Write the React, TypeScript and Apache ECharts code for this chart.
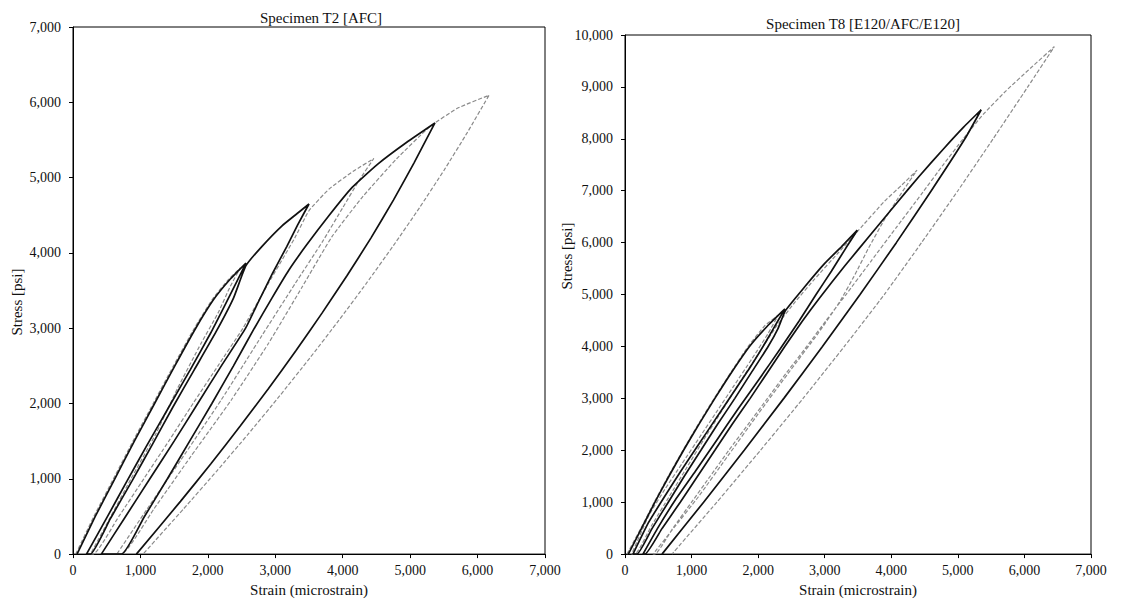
import React, { useEffect, useRef } from "react";
import * as echarts from "echarts";

// ---------- Specimen T2 [AFC] ----------
const t2Title = "Specimen T2 [AFC]";
// black trace (load / unload cycles), [strain, stress]
const t2Black: number[][] = [
  [60, 0], [330, 500], [620, 1000], [910, 1500], [1210, 2000], [1510, 2500], [1820, 3000], [2085, 3380], [2330, 3650], [2565, 3864],
  [2440, 3640], [2250, 3300], [2050, 2950], [1740, 2450], [1420, 1950], [1100, 1450], [800, 970], [500, 480], [200, 0],
  [260, 0], [560, 480], [880, 980], [1180, 1460], [1480, 1950], [1800, 2450], [2120, 2950], [2380, 3400], [2565, 3830], [2800, 4084], [3100, 4360], [3320, 4520], [3500, 4649],
  [3330, 4370], [3170, 4084], [2960, 3730], [2760, 3370], [2560, 3000], [2200, 2500], [1850, 2000], [1500, 1500], [1140, 1000], [780, 500], [420, 0],
  [720, 0], [1060, 500], [1400, 1000], [1730, 1500], [2060, 2000], [2380, 2500], [2690, 3000], [2950, 3400], [3200, 3770], [3460, 4100], [3800, 4500], [4140, 4870], [4520, 5180], [4950, 5470], [5368, 5726],
  [5060, 5200], [4752, 4700], [4420, 4200], [4065, 3700], [3693, 3200], [3305, 2700], [2900, 2200], [2480, 1700], [2045, 1200], [1594, 700], [940, 0],
];
// grey trace
const t2Grey: number[][] = [
  [40, 0], [310, 500], [600, 1000], [890, 1500], [1190, 2000], [1490, 2500], [1800, 3000], [2080, 3400], [2300, 3640], [2480, 3800],
  [2330, 3550], [2150, 3200], [1900, 2800], [1550, 2200], [1230, 1600], [860, 1000], [560, 500], [260, 0],
  [300, 0], [680, 500], [1050, 1000], [1420, 1500], [1780, 2000], [2150, 2500], [2520, 3000], [2900, 3600], [3290, 4200], [3500, 4560], [3800, 4850], [4150, 5080], [4461, 5254],
  [4245, 4967], [4000, 4600], [3700, 4150], [3300, 3600], [2800, 2900], [2200, 2050], [1600, 1250], [1100, 600], [650, 0],
  [720, 0], [1200, 600], [1750, 1300], [2350, 2050], [2900, 2800], [3400, 3550], [3841, 4216], [4300, 4750], [4800, 5250], [5287, 5672], [5700, 5920], [6169, 6093],
  [5849, 5600], [5504, 5100], [5139, 4600], [4754, 4100], [4354, 3600], [3939, 3100], [3509, 2600], [3064, 2100], [2604, 1600], [2129, 1100], [1639, 600], [1039, 0],
];

// ---------- Specimen T8 [E120/AFC/E120] ----------
const t8Title = "Specimen T8 [E120/AFC/E120]";
const t8Black: number[][] = [
  [50, 0], [250, 500], [450, 1000], [660, 1500], [880, 2000], [1110, 2500], [1350, 3000], [1600, 3500], [1870, 4000], [2130, 4380], [2402, 4722],
  [2300, 4500], [2120, 4100], [1880, 3600], [1620, 3100], [1360, 2600], [1100, 2100], [840, 1600], [590, 1100], [350, 600], [120, 0],
  [180, 0], [410, 500], [650, 1000], [890, 1500], [1140, 2000], [1390, 2500], [1650, 3000], [1900, 3500], [2150, 4000], [2300, 4350], [2410, 4690], [2700, 5150], [3000, 5600], [3250, 5920], [3490, 6240],
  [3320, 5900], [3100, 5450], [2870, 5000], [2620, 4500], [2330, 3950], [2020, 3380], [1700, 2800], [1380, 2200], [1060, 1600], [760, 1050], [500, 520], [270, 0],
  [300, 0], [560, 500], [830, 1000], [1090, 1500], [1350, 2000], [1610, 2500], [1880, 3000], [2140, 3500], [2400, 4000], [2660, 4480], [2920, 4930], [3300, 5550], [3700, 6170], [4080, 6760], [4420, 7280], [4780, 7800], [5090, 8230], [5351, 8560],
  [5106, 8000], [4601, 7000], [4076, 6000], [3531, 5000], [2966, 4000], [2386, 3000], [1791, 2000], [1181, 1000], [556, 0],
];
const t8Grey: number[][] = [
  [30, 0], [240, 500], [440, 1000], [650, 1500], [870, 2000], [1100, 2500], [1340, 3000], [1590, 3500], [1850, 4000], [2100, 4400], [2300, 4600],
  [2150, 4250], [1900, 3750], [1640, 3250], [1380, 2750], [1120, 2250], [860, 1750], [600, 1250], [360, 750], [100, 0],
  [150, 0], [400, 550], [660, 1100], [920, 1650], [1180, 2200], [1450, 2750], [1720, 3300], [2000, 3850], [2280, 4400], [2550, 4850], [2850, 5300], [3200, 5800], [3550, 6300], [3900, 6800], [4150, 7100], [4386, 7395],
  [4150, 6950], [3900, 6450], [3660, 5900], [3440, 5350], [3220, 4850], [2900, 4250], [2450, 3480], [2000, 2700], [1550, 1900], [1100, 1100], [700, 450], [420, 0],
  [450, 0], [720, 500], [1000, 1000], [1280, 1500], [1560, 2000], [1850, 2500], [2140, 3000], [2430, 3500], [2730, 4000], [3020, 4500], [3320, 5000], [3700, 5650], [4080, 6300], [4450, 6930], [4780, 7500], [5080, 8000], [5380, 8470], [5720, 8920], [6090, 9360], [6450, 9776],
  [6050, 9000], [5530, 8000], [5000, 7000], [4455, 6000], [3895, 5000], [3295, 4000], [2675, 3000], [2035, 2000], [1380, 1000], [705, 0],
];

const xName = "Strain (microstrain)";
const yName = "Stress [psi]";

const FONT = "'Liberation Serif', 'DejaVu Serif', serif";
const fmt = (v: number) => v.toLocaleString("en-US");

export default function App() {
  const ref = useRef<HTMLDivElement>(null);
  useEffect(() => {
    if (!ref.current) return;
    const chart = echarts.init(ref.current, undefined, { renderer: "svg" });
    const xAxisBase = {
      type: "value" as const,
      min: 0,
      max: 7000,
      interval: 1000,
      splitLine: { show: false },
      axisLine: { show: true, onZero: false, lineStyle: { color: "#000", width: 1 } },
      axisTick: { show: true, length: 4, lineStyle: { color: "#000" } },
      axisLabel: { formatter: fmt, color: "#111", fontFamily: FONT, fontSize: 14, margin: 9 },
      name: xName,
      nameLocation: "middle" as const,
      nameGap: 26,
      nameTextStyle: { color: "#111", fontFamily: FONT, fontSize: 15 },
    };
    const yAxisBase = {
      type: "value" as const,
      min: 0,
      interval: 1000,
      splitLine: { show: false },
      axisLine: { show: true, lineStyle: { color: "#000", width: 1 } },
      axisTick: { show: true, length: 4, lineStyle: { color: "#000" } },
      axisLabel: { formatter: fmt, color: "#111", fontFamily: FONT, fontSize: 14, margin: 12 },
    };
    const blackStyle = { color: "#111", width: 1.7 };
    const greyStyle = { color: "#8a8a8a", width: 1.2, type: [4, 2] as any };
    chart.setOption({
      animation: false,
      backgroundColor: "#fff",
      title: [
        { text: t2Title, left: 316, top: 5, textAlign: "center", textStyle: { fontFamily: FONT, fontSize: 15, fontWeight: "normal", color: "#111" } },
        { text: t8Title, left: 858, top: 11, textAlign: "center", textStyle: { fontFamily: FONT, fontSize: 15, fontWeight: "normal", color: "#111" } },
      ],
      grid: [
        { left: 73, top: 27, width: 472, height: 528, show: true, borderColor: "#000", borderWidth: 1 },
        { left: 625, top: 35, width: 466, height: 521, show: true, borderColor: "#000", borderWidth: 1 },
      ],
      xAxis: [
        { ...xAxisBase, gridIndex: 0 },
        { ...xAxisBase, gridIndex: 1 },
      ],
      yAxis: [
        { ...yAxisBase, gridIndex: 0, max: 7000 },
        { ...yAxisBase, gridIndex: 1, max: 10000 },
      ],
      graphic: [
        { type: "text", x: 17, y: 302, rotation: Math.PI / 2, style: { text: yName, fontFamily: FONT, fontSize: 15, fill: "#111", align: "center", verticalAlign: "middle" } },
        { type: "text", x: 567, y: 256, rotation: Math.PI / 2, style: { text: yName, fontFamily: FONT, fontSize: 15, fill: "#111", align: "center", verticalAlign: "middle" } },
      ],
      series: [
        { type: "line", name: "T2 grey", xAxisIndex: 0, yAxisIndex: 0, data: t2Grey, showSymbol: false, smooth: 0.15, lineStyle: greyStyle, silent: true },
        { type: "line", name: "T2 black", xAxisIndex: 0, yAxisIndex: 0, data: t2Black, showSymbol: false, smooth: 0.15, lineStyle: blackStyle, silent: true },
        { type: "line", name: "T8 grey", xAxisIndex: 1, yAxisIndex: 1, data: t8Grey, showSymbol: false, smooth: 0.15, lineStyle: greyStyle, silent: true },
        { type: "line", name: "T8 black", xAxisIndex: 1, yAxisIndex: 1, data: t8Black, showSymbol: false, smooth: 0.15, lineStyle: blackStyle, silent: true },
      ],
    });
    return () => chart.dispose();
  }, []);
  return (
    <div
      ref={ref}
      style={{ position: "fixed", left: 0, top: 0, width: 1124, height: 602, background: "#fff" }}
    />
  );
}
